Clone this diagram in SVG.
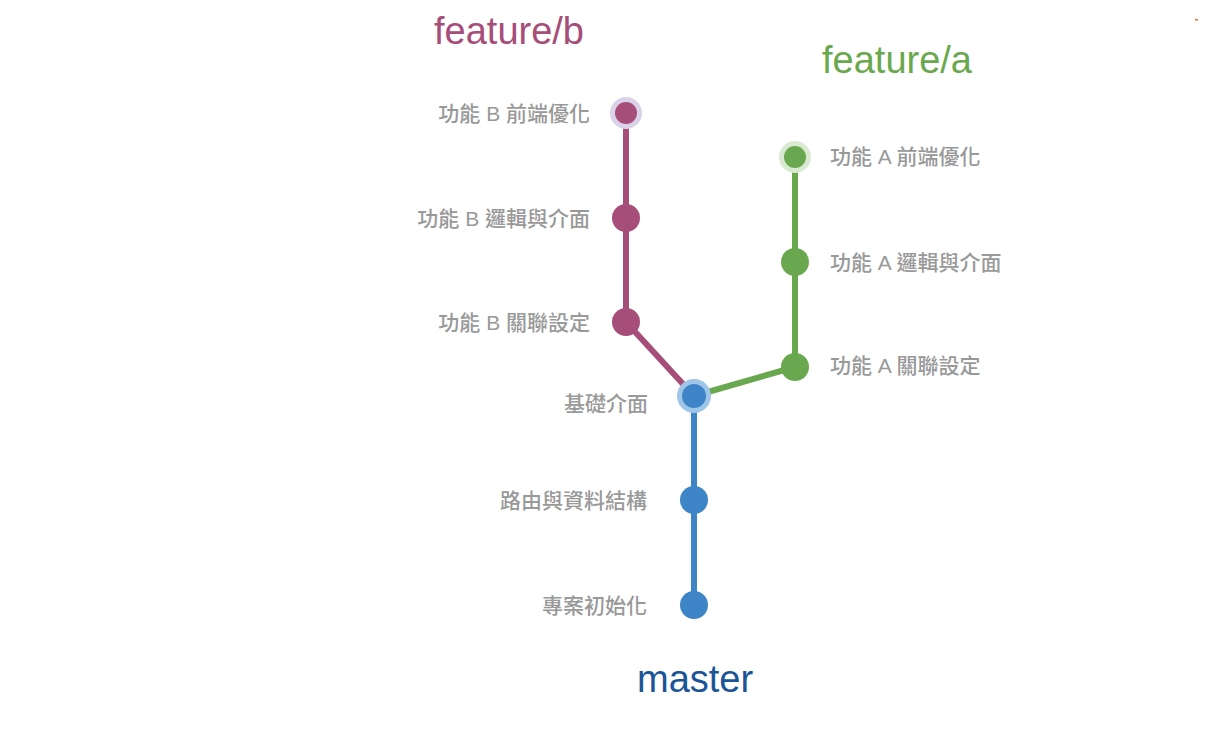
<svg xmlns="http://www.w3.org/2000/svg" width="1208" height="742" viewBox="0 0 1208 742">
<style>
.lbl{font-family:"Liberation Sans","Noto Sans CJK TC",sans-serif;font-size:21px;font-weight:500;fill:#999999}
.end{text-anchor:end}
.title{font-family:"Liberation Sans",Arial,sans-serif;font-size:38px}
.ln{fill:none;stroke-width:6;stroke-linecap:round}
.b{stroke:#a64d79}.a{stroke:#6aa84f}.m{stroke:#3d85c6}
</style>
<rect width="1208" height="742" fill="#ffffff"/>
<rect x="1195" y="19" width="3" height="1.5" fill="#f07030"/>
<g id="connectors">
<line class="ln m" x1="694" y1="396" x2="694" y2="605"/>
<line class="ln b" x1="626" y1="113" x2="626" y2="322"/>
<line class="ln b" x1="626" y1="322" x2="694" y2="396"/>
<line class="ln a" x1="795" y1="157" x2="795" y2="367"/>
<line class="ln a" x1="795" y1="367" x2="694" y2="396"/>
</g>
<g id="title-feature-b"><text class="title" x="434" y="44" fill="#a64d79">feature/b</text></g>
<g id="title-feature-a"><text class="title" x="822" y="73" fill="#6aa84f">feature/a</text></g>
<g id="title-master"><text class="title" x="637" y="692" fill="#1c5597">master</text></g>
<g id="node-b3"><circle cx="626" cy="113" r="16" fill="#d9d2e9"/><circle cx="626" cy="113" r="11" fill="#a64d79"/><text class="lbl end" x="590" y="121">功能 B 前端優化</text></g>
<g id="node-b2"><circle cx="626" cy="218" r="14" fill="#a64d79"/><text class="lbl end" x="590" y="226">功能 B 邏輯與介面</text></g>
<g id="node-b1"><circle cx="626" cy="322" r="14" fill="#a64d79"/><text class="lbl end" x="590" y="330">功能 B 關聯設定</text></g>
<g id="node-a3"><circle cx="795" cy="157" r="16" fill="#d9ead3"/><circle cx="795" cy="157" r="11" fill="#6aa84f"/><text class="lbl" x="830" y="164">功能 A 前端優化</text></g>
<g id="node-a2"><circle cx="795" cy="262" r="14" fill="#6aa84f"/><text class="lbl" x="830" y="270">功能 A 邏輯與介面</text></g>
<g id="node-a1"><circle cx="795" cy="367" r="14" fill="#6aa84f"/><text class="lbl" x="830" y="373">功能 A 關聯設定</text></g>
<g id="node-m3"><circle cx="694" cy="396" r="17" fill="#9fc5e8"/><circle cx="694" cy="396" r="12" fill="#3d85c6"/><text class="lbl end" x="648" y="411">基礎介面</text></g>
<g id="node-m2"><circle cx="694" cy="500" r="14" fill="#3d85c6"/><text class="lbl end" x="647" y="508">路由與資料結構</text></g>
<g id="node-m1"><circle cx="694" cy="605" r="14" fill="#3d85c6"/><text class="lbl end" x="647" y="613">專案初始化</text></g>
</svg>
